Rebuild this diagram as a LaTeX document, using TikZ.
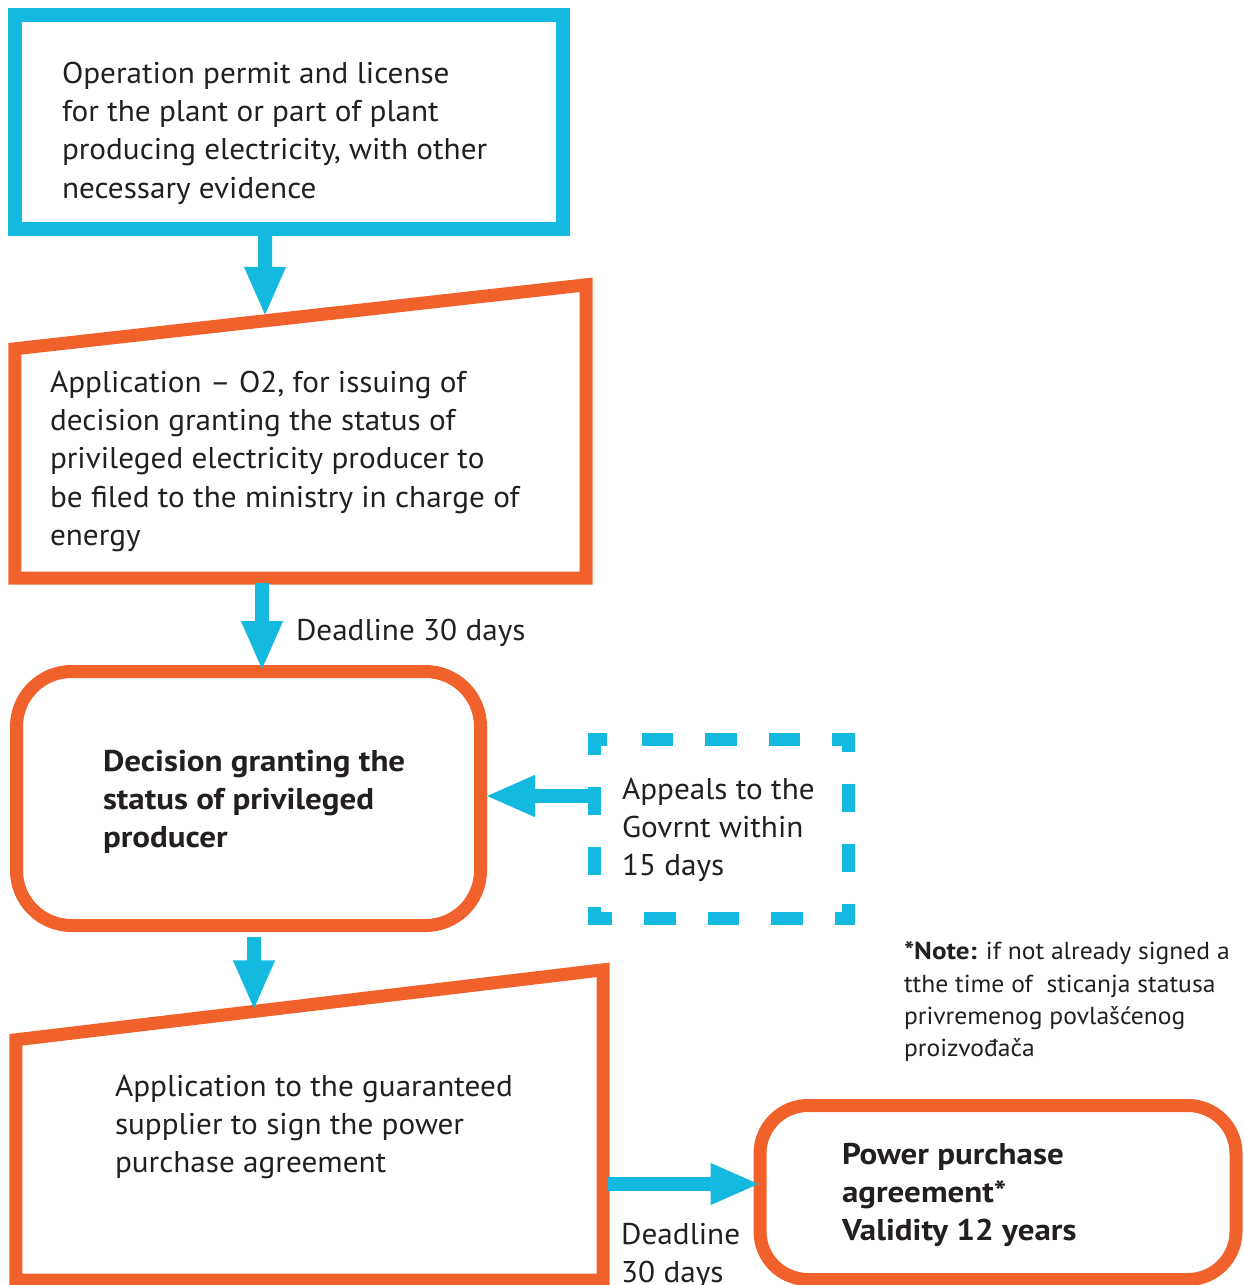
\documentclass[tikz,border=0pt]{standalone}
\usepackage{fontspec}
\setmainfont{PT Sans}[FakeStretch=1.04, BoldFeatures={FakeStretch=1.10}]
\usetikzlibrary{arrows.meta, calc}
\definecolor{permitblue}{RGB}{19,185,222}
\definecolor{stageorange}{RGB}{241,97,44}
\definecolor{inktext}{RGB}{35,31,32}
\tikzstyle{permitbox} = [
    rectangle,
    minimum width=548pt,
    minimum height=214pt,
    line width=14pt,
    draw=permitblue
]
\tikzstyle{slantframe} = [
    rectangle,
    inner sep=0pt
]
\tikzstyle{slantline} = [
    line width=13pt,
    line join=miter,
    draw=stageorange
]
\tikzstyle{roundbox} = [
    rectangle,
    rounded corners=55pt,
    line width=13pt,
    draw=stageorange
]
\tikzstyle{appealframe} = [
    rectangle,
    minimum width=253pt,
    minimum height=178pt
]
\tikzstyle{appealline} = [
    line width=13pt,
    draw=permitblue,
    dash pattern=on 31.5pt off 32pt on 31.5pt off 32pt on 31.5pt off 32pt
        on 28pt off 32pt on 28pt off 32pt on 28pt off 32pt on 28pt off 32pt,
    dash phase=414.5pt
]
\tikzstyle{boxtext} = [
    anchor=north west,
    inner sep=0pt,
    outer sep=0pt,
    align=left,
    text=inktext,
    font=\fontsize{30}{38.3}\selectfont
]
\tikzstyle{boldtext} = [boxtext, font=\fontsize{30}{38.3}\selectfont\bfseries]
\tikzstyle{notetext} = [boxtext, font=\fontsize{24.6}{32.3}\selectfont]
\tikzstyle{arrow} = [line width=14pt, draw=permitblue, -{Triangle[length=50pt,width=38pt]}]

\begin{document}
\begin{tikzpicture}[x=1pt, y=-1pt]
\useasboundingbox (0,0) rectangle (1243,1285);

% boxes
\node (permit) [permitbox] at (289,122) {};
\node (apply) [slantframe, minimum width=571pt, minimum height=293pt] at (300.5,431.5) {};
\node (decide) [roundbox, minimum width=464pt, minimum height=254pt] at (248.5,798.5) {};
\node (appeal) [appealframe] at (721.5,829) {};
\node (supply) [slantframe, minimum width=587pt, minimum height=310pt] at (309.5,1125) {};
\node (power) [roundbox, rounded corners=48pt, minimum width=476pt, minimum height=174pt] at (998,1192.5) {};

% slanted tops and dashed frame
\coordinate (applytop) at ([yshift=-64pt]apply.north west);
\coordinate (supplytop) at ([yshift=-70pt]supply.north west);
\draw [slantline] (applytop) -- (apply.north east) -- (apply.south east) -- (apply.south west) -- cycle;
\draw [slantline] (supplytop) -- (supply.north east) -- (supply.south east) -- (supply.south west) -- cycle;
\draw [appealline] ([xshift=31pt]appeal.north west) -- (appeal.north east) -- (appeal.south east)
    -- (appeal.south west) -- (appeal.north west) -- cycle;

% texts
\node (permittext) [boxtext] at (62,62)
{Operation permit and license\\for the plant or part of plant\\producing electricity, with other\\necessary evidence};

\node (applytext) [boxtext] at (50,371)
{Application – O2, for issuing of\\decision granting the status of\\privileged electricity producer to\\be filed to the ministry in charge of\\energy};

\node (decidetext) [boldtext] at (103,750)
{Decision granting the\\status of privileged\\producer};

\node (appealtext) [boxtext] at (622,778)
{Appeals to the\\Govrnt within\\15 days};

\node (supplytext) [boxtext] at (115,1075)
{Application to the guaranteed\\supplier to sign the power\\purchase agreement};

\node (powertext) [boldtext] at (842,1143)
{Power purchase\\agreement*\\Validity 12 years};

\node (note) [notetext] at (904,942)
{\textbf{*Note:} if not already signed a\\tthe time of\ \ sticanja statusa\\privremenog povlašćenog\\proizvođača};

% arrows
\draw [arrow, shorten >=4pt] ([xshift=-24pt]permit.south) -- ($(applytop)!0.438!(apply.north east)$);
\draw [arrow, shorten <=5pt, shorten >=-6pt] ([xshift=-38.5pt]apply.south)
    -- node [boxtext, pos=0.43, xshift=34pt, yshift=-4pt] {Deadline 30 days} ([xshift=13.5pt]decide.north);
\draw [arrow, shorten >=-2pt] ([yshift=33pt]appeal.west) -- ([yshift=2.5pt]decide.east);
\draw [arrow, shorten <=5pt, shorten >=1pt] ([xshift=5.5pt]decide.south) -- ($(supplytop)!0.4055!(supply.north east)$);
\draw [arrow, shorten <=5pt, shorten >=-7pt] ([yshift=-59pt]supply.east)
    -- node [boxtext, pos=0.12, yshift=-39pt] {Deadline\\30 days} ([yshift=8.5pt]power.west);

\end{tikzpicture}
\end{document}
